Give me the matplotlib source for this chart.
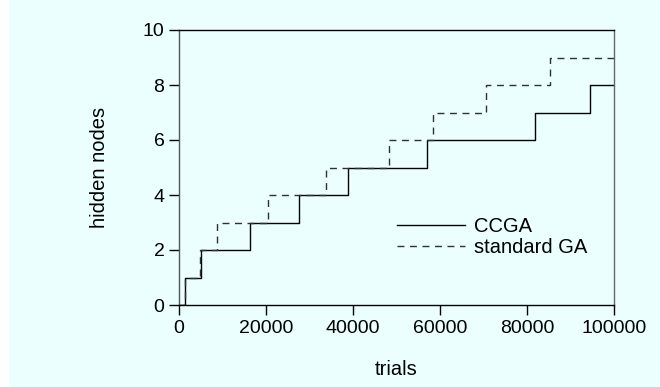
import matplotlib
matplotlib.use("Agg")
import matplotlib.pyplot as plt
from matplotlib.patches import Rectangle

# step data
ccga_trials = [0, 1300, 5100, 16400, 27500, 38800, 57000, 81800, 94500, 100000]
ccga_nodes = [0, 1, 2, 3, 4, 5, 6, 7, 8, 8]
ga_trials = [0, 1300, 4900, 8800, 20500, 33800, 48200, 58400, 70500, 85300, 100000]
ga_nodes = [0, 1, 2, 3, 4, 5, 6, 7, 8, 9, 9]

plt.rcParams['font.family'] = ['Liberation Sans', 'DejaVu Sans']
bg = '#ebffff'

fig = plt.figure(figsize=(6.6, 3.87), dpi=100, facecolor=bg)
# thin white strip on the left edge
fig.patches.append(Rectangle((0, 0), 9 / 660, 1, transform=fig.transFigure,
                             facecolor='white', edgecolor='none', zorder=-1))
ax = fig.add_axes([179 / 660, 1 - 305 / 387, 435 / 660, 275 / 387])
ax.set_facecolor(bg)

ax.step(ccga_trials, ccga_nodes, where='post', color='black', lw=1, label='CCGA')
ax.step(ga_trials, ga_nodes, where='post', color='#303030', lw=1,
        linestyle=(0, (5, 4)), label='standard GA')

ax.set_xlim(0, 100000)
ax.set_ylim(0, 10)
ax.set_xticks(range(0, 100001, 20000))
ax.set_yticks(range(0, 11, 2))
ax.tick_params(direction='out', length=7, width=1, labelsize=14, color='black')

for s in ax.spines.values():
    s.set_linewidth(1)
ax.spines['left'].set_color('#555555')
ax.spines['right'].set_color('#666666')

ax.set_xlabel('trials', fontsize=14.5, labelpad=17)
ax.set_ylabel('hidden nodes', fontsize=14.5, labelpad=24)

ax.legend(loc='upper left', bbox_to_anchor=(0.5, 0.32), frameon=False,
          handlelength=3.4, fontsize=14.5, borderpad=0, borderaxespad=0,
          labelspacing=0.1, handletextpad=0.45)

fig.savefig('out.png', dpi=100, facecolor=bg)
